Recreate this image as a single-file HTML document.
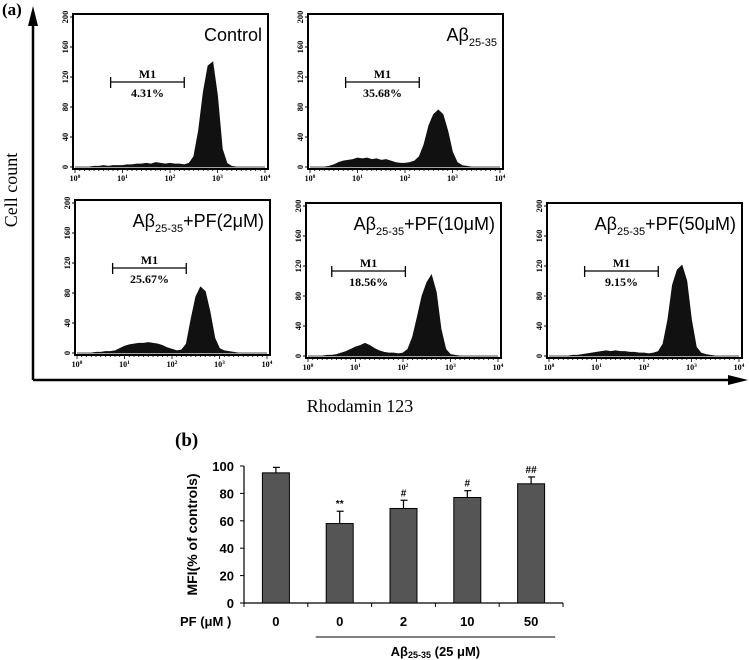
<!DOCTYPE html>
<html><head><meta charset="utf-8"><style>
body{margin:0;background:#fff;}
svg{display:block;}
.serif{font-family:"Liberation Serif",serif;}
.sans{font-family:"Liberation Sans",sans-serif;}
</style></head><body>
<svg id="fig" width="749" height="660" viewBox="0 0 749 660">
<text x="2" y="15" class="serif" font-size="17" font-weight="bold">(a)</text>
<line x1="33" y1="380" x2="33" y2="22" stroke="#000" stroke-width="2.5"/>
<polygon points="33,6 28,26 38,26" fill="#000"/>
<line x1="33" y1="380" x2="730" y2="380" stroke="#000" stroke-width="2.5"/>
<polygon points="748,380 728,375 728,385" fill="#000"/>
<text transform="translate(17,190) rotate(-90)" text-anchor="middle" class="serif" font-size="18">Cell count</text>
<text x="360" y="412" text-anchor="middle" class="serif" font-size="18">Rhodamin 123</text>
<g id="hists"></g>
<text x="175" y="446" class="serif" font-size="19" font-weight="bold">(b)</text>
<g id="bars"></g>
</svg>
<script>
// ---------- histogram data (counts at log10 positions 0..4 step 0.1) ----------
const histLogX = [0,0.1,0.2,0.3,0.4,0.5,0.6,0.7,0.8,0.9,1.0,1.1,1.2,1.3,1.4,1.5,1.6,1.7,1.8,1.9,2.0,2.1,2.2,2.3,2.4,2.5,2.6,2.7,2.8,2.9,3.0,3.1,3.2,3.3,3.4,3.5,3.6,3.7,3.8,3.9,4.0];
const histControl = [0,0,0,0,1,1,2,1,2,2,2,3,3,4,4,5,4,6,5,4,5,4,4,3,5,14,48,100,135,140,95,24,5,1,0,0,0,0,0,0,0];
const histAbeta   = [0,0,0,0,1,3,6,8,9,10,12,11,12,10,11,9,10,8,6,5,5,6,8,14,30,55,70,76,70,48,20,6,2,1,0,0,0,0,0,0,0];
const histPF2     = [0,0,0,0,1,1,2,2,3,6,9,11,12,13,13,14,13,12,10,7,5,3,4,12,45,75,88,82,55,20,6,3,2,1,0,0,0,0,0,0,0];
const histPF10    = [0,0,0,0,1,1,2,4,6,9,12,14,17,14,10,7,5,4,4,3,4,9,25,52,80,98,108,85,36,9,2,1,0,0,0,0,0,0,0,0,0];
const histPF50    = [0,0,0,0,0,1,1,2,3,4,5,6,7,6,7,6,6,5,5,4,4,3,4,6,16,48,95,115,121,100,48,12,4,2,1,0,0,0,0,0,0];
const histTitles = ["Control","Aβ|","Aβ|+PF(2μM)","Aβ|+PF(10μM)","Aβ|+PF(50μM)"];
const histM1 = ["4.31%","35.68%","25.67%","18.56%","9.15%"];
const histMarkerLo = [0.75,0.75,0.75,0.5,0.75];
const histMarkerHi = [2.3,2.3,2.3,2.05,2.3];
const yTickVals = [0,40,80,120,160,200];
const xTickVals = [0,1,2,3,4];
const allHists = [histControl,histAbeta,histPF2,histPF10,histPF50];
const frames = [[73,14],[308,14],[75,200],[306,203],[547,203]];
const FW=195, FH=155;
const NS="http://www.w3.org/2000/svg";
function mk(tag,attrs,parent){const e=document.createElementNS(NS,tag);for(const k in attrs)e.setAttribute(k,attrs[k]);parent.appendChild(e);return e;}
const hg=document.getElementById('hists');
allHists.forEach((data,i)=>{
  const [fx,fy]=frames[i];
  const g=mk('g',{},hg);
  
  
  const px0=fx+2, px1=fx+FW-3, py0=fy+FH-2, py1=fy+3;
  const xs=v=>px0+(v/4)*(px1-px0);
  const ys=v=>py0-(v/200)*(py0-py1);
  let d='M'+xs(histLogX[0])+','+ys(0);
  histLogX.forEach((lx,j)=>{d+=' L'+xs(lx).toFixed(1)+','+ys(data[j]).toFixed(1);});
  d+=' L'+xs(4)+','+ys(0)+' Z';
  const p=mk('path',{d:d,fill:'#111',stroke:'#111','stroke-width':'0.8'},g);
  
  
  const fr=mk('rect',{x:fx,y:fy,width:FW,height:FH,fill:'none',stroke:'#000','stroke-width':'2'},g);
  
  
  yTickVals.forEach(v=>{
    mk('line',{x1:fx-3,x2:fx+1,y1:ys(v),y2:ys(v),stroke:'#000','stroke-width':'1'},g);
    const t=mk('text',{transform:`translate(${fx-5},${ys(v)}) rotate(-90)`,'text-anchor':'middle','font-size':'8.5','font-weight':'bold',class:'serif'},g);
    t.textContent=v;
    
    
  });
  for(let k=0;k<=40;k++){mk('line',{x1:xs(k/10),x2:xs(k/10),y1:fy+FH,y2:fy+FH+(k%10==0?4:2),stroke:'#000','stroke-width':'0.8'},g);}
  xTickVals.forEach(v=>{
    const t=mk('text',{x:xs(v),y:fy+FH+12,'text-anchor':'middle','font-size':'8','font-weight':'bold',class:'serif'},g);
    t.innerHTML='10<tspan font-size="5.5" dy="-3">'+v+'</tspan>';
    
    
  });
  const title=histTitles[i];
  const tt=mk('text',{x:fx+FW-6,y:fy+27,'text-anchor':'end','font-size':'18',class:'sans'},g);
  if(title.includes('|')){
    const parts=title.split('|');
    tt.innerHTML=parts[0]+'<tspan font-size="11" dy="5">25-35</tspan><tspan dy="-5">'+parts[1]+'</tspan>';
  } else tt.textContent=title;
  
  
  const mx0=xs(histMarkerLo[i]), mx1=xs(histMarkerHi[i]), my=fy+68;
  mk('line',{x1:mx0,x2:mx1,y1:my,y2:my,stroke:'#000','stroke-width':'1.3'},g);
  mk('line',{x1:mx0,x2:mx0,y1:my-5,y2:my+6,stroke:'#000','stroke-width':'1.3'},g);
  mk('line',{x1:mx1,x2:mx1,y1:my-5,y2:my+6,stroke:'#000','stroke-width':'1.3'},g);
  const m1=mk('text',{x:(mx0+mx1)/2,y:my-4,'text-anchor':'middle','font-size':'12','font-weight':'bold',class:'serif'},g);
  m1.textContent='M1';
  
  
  const pc=mk('text',{x:(mx0+mx1)/2,y:my+15,'text-anchor':'middle','font-size':'12','font-weight':'bold',class:'serif'},g);
  pc.textContent=histM1[i];
  
  
});

// ---------- bar chart data ----------
const barCats = ["0","0","2","10","50"];
const barVals = [95,58,69,77,87];
const barErrs = [4,9,6,5,5];
const barSig = ["","**","#","#","##"];
const barTicks = [0,20,40,60,80,100];
const bg=document.getElementById('bars');
const ax0=244, ax1=563, by0=603, by100=466;
const bys=v=>by0-(v/100)*(by0-by100);
const step=(ax1-ax0)/barCats.length;
const bxc=i=>ax0+step*(i+0.5);
const yl=mk('line',{x1:ax0,x2:ax0,y1:by0,y2:bys(100),stroke:'#000','stroke-width':'1.2'},bg);

const xl=mk('line',{x1:ax0,x2:ax1,y1:by0,y2:by0,stroke:'#000','stroke-width':'1.2'},bg);

barTicks.forEach(v=>{
  mk('line',{x1:ax0-4,x2:ax0,y1:bys(v),y2:bys(v),stroke:'#000','stroke-width':'1'},bg);
  const t=mk('text',{x:ax0-10,y:bys(v)+5,'text-anchor':'end','font-size':'13','font-weight':'bold',class:'sans'},bg);
  t.textContent=v;
  
  
});
for(let k=0;k<=barCats.length;k++){mk('line',{x1:ax0+step*k,x2:ax0+step*k,y1:by0,y2:by0+4,stroke:'#000','stroke-width':'1'},bg);}
barCats.forEach((c,i)=>{
  const cx=bxc(i), top=bys(barVals[i]), et=bys(barVals[i]+barErrs[i]);
  const r=mk('rect',{x:cx-13.5,y:top,width:27,height:by0-top,fill:'#555',stroke:'#000','stroke-width':'1'},bg);
  
  
  mk('line',{x1:cx,x2:cx,y1:top,y2:et,stroke:'#000','stroke-width':'1.2'},bg);
  mk('line',{x1:cx-3,x2:cx+4,y1:et,y2:et,stroke:'#000','stroke-width':'1.2'},bg);
  if(barSig[i]){const s=mk('text',{x:cx,y:et-4,'text-anchor':'middle','font-size':'10','font-weight':'bold',class:'sans'},bg);s.textContent=barSig[i];
    
    }
  const t=mk('text',{x:cx,y:by0+23,'text-anchor':'middle','font-size':'13','font-weight':'bold',class:'sans'},bg);
  t.textContent=c;
  
  
});
const yt=mk('text',{transform:`translate(${ax0-47},${bys(50)}) rotate(-90)`,'text-anchor':'middle','font-size':'14','font-weight':'bold',class:'sans'},bg);
yt.textContent='MFI(% of controls)';

const pf=mk('text',{x:180,y:626,'font-size':'13','font-weight':'bold',class:'sans'},bg);
pf.textContent='PF (μM )';

const br=mk('line',{x1:bxc(1)-24,x2:bxc(4)+24,y1:637,y2:637,stroke:'#000','stroke-width':'1'},bg);

const ab=mk('text',{x:(bxc(1)+bxc(4))/2,y:656,'text-anchor':'middle','font-size':'13','font-weight':'bold',class:'sans'},bg);
ab.innerHTML='Aβ<tspan font-size="9" dy="2">25-35</tspan><tspan dy="-2"> (25 μM)</tspan>';

</script>
</body></html>
